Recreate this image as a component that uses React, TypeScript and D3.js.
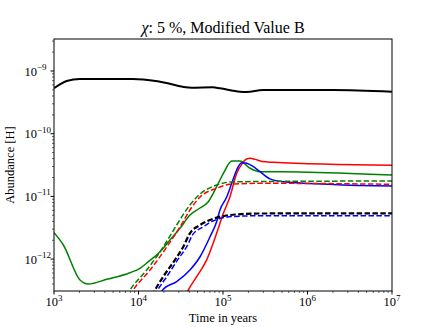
import React from 'react';
import * as d3 from 'd3';

const W = 436;
const H = 327;
const margin = { top: 39, right: 44, bottom: 36, left: 54 };

// time axis (years) and abundance axis limits
const xDomain = [1e3, 1e7];
const yDomain = [3.1e-13, 3.24e-9];
const xMajor = [3, 4, 5, 6, 7];
const yMajor = [-12, -11, -10, -9];

// solid curves
const blackSolidT = [1e3, 1.41e3, 2.03e3, 8.6e3, 1.8e4, 4.27e4, 7.6e4, 9.2e4, 1.59e5, 1.91e5, 2.97e5, 2.0e6, 1e7];
const blackSolidV = [5.3e-10, 6.93e-10, 7.45e-10, 7.45e-10, 6.75e-10, 5.42e-10, 5.5e-10, 5.3e-10, 4.67e-10, 4.63e-10, 4.98e-10, 4.98e-10, 4.67e-10];

const greenSolidT = [1e3, 1.29e3, 2.03e3, 2.55e3, 4.21e3, 7.92e3, 1.04e4, 1.31e4, 1.8e4, 2.36e4, 3.1e4, 4.06e4, 5.35e4, 6.7e4, 8.41e4, 1.01e5, 1.27e5, 1.59e5, 2.09e5, 2.74e5, 8.15e5, 1e7];
const greenSolidV = [2.64e-12, 1.68e-12, 4.64e-13, 4.01e-13, 4.76e-13, 6.07e-13, 7.13e-13, 9.1e-13, 1.31e-12, 2.02e-12, 3.1e-12, 5.05e-12, 6.53e-12, 8.23e-12, 1.43e-11, 2.33e-11, 3.67e-11, 3.67e-11, 2.81e-11, 2.48e-11, 2.45e-11, 2.19e-11];

const redSolidT = [3.6e4, 3.88e4, 4.88e4, 6.41e4, 8.41e4, 1.01e5, 1.21e5, 1.45e5, 1.66e5, 1.9e5, 2.1e5, 2.4e5, 2.9e5, 3.9e5, 1e7];
const redSolidV = [2.6e-13, 3.21e-13, 5.24e-13, 9.7e-13, 2.58e-12, 5.37e-12, 9.9e-12, 2.33e-11, 3.25e-11, 3.95e-11, 4.07e-11, 3.9e-11, 3.6e-11, 3.5e-11, 3.13e-11];

const blueSolidT = [1.8e4, 1.96e4, 2.83e4, 4.06e4, 5.35e4, 7.02e4, 8.41e4, 9.2e4, 1.11e5, 1.27e5, 1.45e5, 1.66e5, 1.91e5, 2.29e5, 2.74e5, 3.6e5, 5.13e5, 1e7];
const blueSolidV = [2.8e-13, 3.3e-13, 4.37e-13, 6.7e-13, 1.09e-12, 2.27e-12, 3.95e-12, 6.07e-12, 9.9e-12, 1.62e-11, 2.64e-11, 3.45e-11, 3.37e-11, 2.98e-11, 2.48e-11, 1.9e-11, 1.72e-11, 1.46e-11];

// dashed curves
const greenDashT = [7.2e3, 7.92e3, 1.25e4, 1.96e4, 2.83e4, 4.06e4, 5.35e4, 8.41e4, 1.27e5, 2.74e5, 1e7];
const greenDashV = [2.6e-13, 3.21e-13, 6.7e-13, 1.56e-12, 3.5e-12, 7.3e-12, 1.09e-11, 1.52e-11, 1.7e-11, 1.73e-11, 1.76e-11];

const redDashT = [7.9e3, 8.67e3, 1.37e4, 2.16e4, 3.1e4, 4.06e4, 5.35e4, 8.41e4, 1.21e5, 2.74e5, 1e7];
const redDashV = [2.6e-13, 3.21e-13, 6.7e-13, 1.56e-12, 3.25e-12, 6.07e-12, 9.8e-12, 1.35e-11, 1.56e-11, 1.62e-11, 1.56e-11];

const blackDashT = [1.45e4, 1.57e4, 1.96e4, 2.7e4, 3.39e4, 4.06e4, 5.35e4, 7.02e4, 1.21e5, 2.74e5, 1e7];
const blackDashV = [2.6e-13, 3.21e-13, 5.24e-13, 9.7e-13, 1.58e-12, 2.58e-12, 3.5e-12, 4.21e-12, 5.05e-12, 5.34e-12, 5.37e-12];

const blueDashT = [1.56e4, 1.69e4, 2.16e4, 2.9e4, 3.72e4, 4.42e4, 5.8e4, 7.6e4, 1.31e5, 2.74e5, 1e7];
const blueDashV = [2.6e-13, 3.21e-13, 5.24e-13, 9.7e-13, 1.58e-12, 2.5e-12, 3.25e-12, 4.06e-12, 4.78e-12, 4.92e-12, 4.92e-12];

const series = [
  { t: blackSolidT, v: blackSolidV, color: '#000000', dash: null, w: 2 },
  { t: greenSolidT, v: greenSolidV, color: '#008000', dash: null, w: 1.5 },
  { t: redSolidT, v: redSolidV, color: '#ff0000', dash: null, w: 1.5 },
  { t: blueSolidT, v: blueSolidV, color: '#0000ff', dash: null, w: 1.5 },
  { t: greenDashT, v: greenDashV, color: '#008000', dash: '5.5,2.4', w: 1.5 },
  { t: redDashT, v: redDashV, color: '#ff0000', dash: '5.5,2.4', w: 1.5 },
  { t: blackDashT, v: blackDashV, color: '#000000', dash: '5.5,2.4', w: 2.2 },
  { t: blueDashT, v: blueDashV, color: '#0000ff', dash: '5.5,2.4', w: 1.5 },
];

const font = "'Liberation Serif', 'DejaVu Serif', serif";

export default function App() {
  const x0 = margin.left;
  const x1 = W - margin.right;
  const y0 = margin.top;
  const y1 = H - margin.bottom;

  const x = d3.scaleLog().domain(xDomain).range([x0, x1]);
  const y = d3.scaleLog().domain(yDomain).range([y1, y0]);

  const line = d3
    .line<[number, number]>()
    .x(d => x(d[0]))
    .y(d => y(d[1]))
    .curve(d3.curveMonotoneX);

  // minor ticks
  const xMinor: number[] = [];
  for (let e = 3; e < 7; e++) for (let k = 2; k < 10; k++) xMinor.push(k * 10 ** e);
  const yMinor: number[] = [];
  for (let e = -13; e <= -9; e++)
    for (let k = 2; k < 10; k++) {
      const v = k * 10 ** e;
      if (v > yDomain[0] && v < yDomain[1]) yMinor.push(v);
    }

  return (
    <svg
      width={W}
      height={H}
      style={{ position: 'absolute', left: 0, top: 0, background: '#fff', fontFamily: font }}
    >
      <defs>
        <clipPath id="plot">
          <rect x={x0} y={y0} width={x1 - x0} height={y1 - y0} />
        </clipPath>
      </defs>

      <text x={(x0 + x1) / 2} y={33} textAnchor="middle" fontSize={16}>
        <tspan fontStyle="italic">χ</tspan>: 5 %, Modified Value B
      </text>

      <g clipPath="url(#plot)" fill="none">
        {series.map((s, i) => (
          <path
            key={i}
            d={line(s.t.map((t, j) => [t, s.v[j]] as [number, number])) || ''}
            stroke={s.color}
            strokeWidth={s.w}
            strokeDasharray={s.dash || undefined}
            strokeLinejoin="round"
          />
        ))}
      </g>

      {/* frame */}
      <rect x={x0} y={y0} width={x1 - x0} height={y1 - y0} fill="none" stroke="#000" strokeWidth={1} />

      {/* x ticks */}
      {xMajor.map(e => (
        <g key={'xm' + e}>
          <line x1={x(10 ** e)} x2={x(10 ** e)} y1={y1} y2={y1 + 3.5} stroke="#000" />
          <text x={x(10 ** e)} y={y1 + 15} textAnchor="middle" fontSize={12.5}>
            10<tspan dy={-5} fontSize={9}>{e}</tspan>
          </text>
        </g>
      ))}
      {xMinor.map(v => (
        <line key={'xn' + v} x1={x(v)} x2={x(v)} y1={y1} y2={y1 + 2} stroke="#000" strokeWidth={0.6} />
      ))}

      {/* y ticks */}
      {yMajor.map(e => (
        <g key={'ym' + e}>
          <line x1={x0 - 3.5} x2={x0} y1={y(10 ** e)} y2={y(10 ** e)} stroke="#000" />
          <text x={x0 - 17} y={y(10 ** e) + 4.5} textAnchor="end" fontSize={12.5}>
            10
          </text>
          <text x={x0 - 17} y={y(10 ** e) - 1} textAnchor="start" fontSize={9}>
            {'\u2212' + -e}
          </text>
        </g>
      ))}
      {yMinor.map(v => (
        <line key={'yn' + v} x1={x0 - 2} x2={x0} y1={y(v)} y2={y(v)} stroke="#000" strokeWidth={0.6} />
      ))}

      <text x={(x0 + x1) / 2} y={322} textAnchor="middle" fontSize={12.5}>
        Time in years
      </text>
      <text transform={`translate(14,${(y0 + y1) / 2}) rotate(-90)`} textAnchor="middle" fontSize={12.5}>
        Abundance [H]
      </text>
    </svg>
  );
}
